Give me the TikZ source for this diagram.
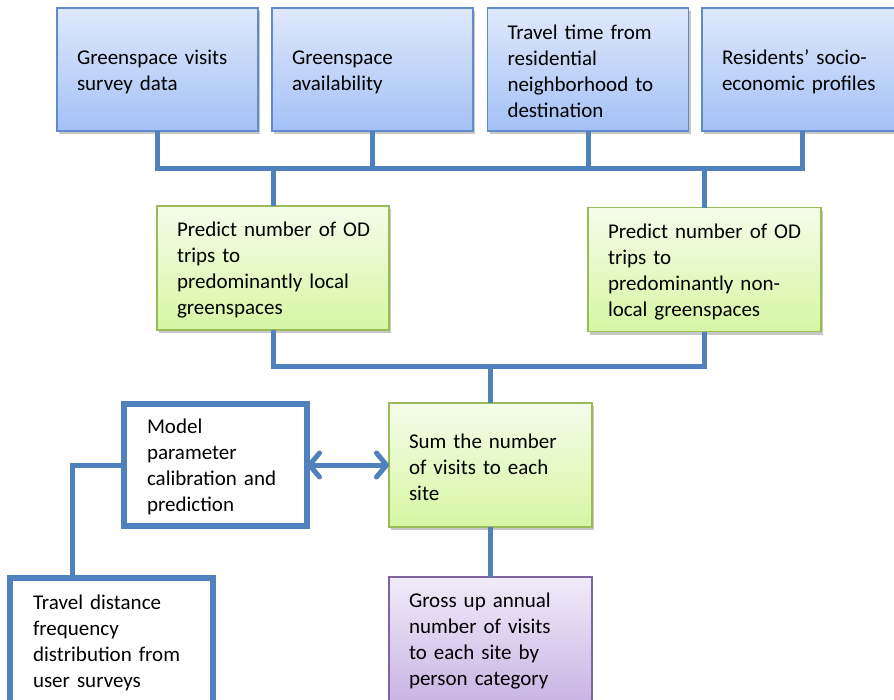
\documentclass[tikz,border=0pt]{standalone}
\usepackage{fontspec}
\setmainfont{Carlito}
\usepackage{tikz}
\usetikzlibrary{arrows.meta, shadows}

\definecolor{linkblue}{RGB}{79,129,189}
\definecolor{topedge}{RGB}{99,139,204}
\definecolor{toptop}{RGB}{223,233,252}
\definecolor{topbot}{RGB}{163,193,245}
\definecolor{greenedge}{RGB}{155,187,89}
\definecolor{greentop}{RGB}{245,252,234}
\definecolor{greenbot}{RGB}{214,246,162}
\definecolor{purpleedge}{RGB}{128,100,162}
\definecolor{purpletop}{RGB}{240,235,249}
\definecolor{purplebot}{RGB}{201,181,229}

\tikzset{
	box/.style={rectangle, align=left, inner xsep=20pt, inner ysep=0pt, outer sep=0pt,
		font=\fontsize{21}{26}\selectfont, execute at begin node={\rule{0pt}{19pt}}},
	softshadow/.style={drop shadow={shadow xshift=2pt, shadow yshift=-3pt, opacity=0.22, fill=black}},
	inputbox/.style={box, draw=topedge, line width=1.5pt, top color=toptop, bottom color=topbot,
		softshadow, minimum width=201pt, minimum height=123pt, text width=161pt},
	stepbox/.style={box, draw=greenedge, line width=1.5pt, top color=greentop, bottom color=greenbot,
		softshadow, minimum height=124pt},
	outbox/.style={box, draw=purpleedge, line width=1.5pt, top color=purpletop, bottom color=purplebot,
		minimum width=203pt, minimum height=124pt, text width=163pt},
	plainbox/.style={box, draw=linkblue, line width=6pt, fill=white, inner xsep=23pt},
	link/.style={draw=linkblue, line width=5pt},
	barb/.tip={Straight Barb[round, length=10pt, width=24pt]}
}

\begin{document}
\begin{tikzpicture}[x=1pt, y=-1pt]
		\useasboundingbox (0,0) rectangle (894,699);

		% Input data
		\node[inputbox] (greenvisits) at (157.5,69.5) {Greenspace visits\\survey data};
		\node[inputbox] (availability) at (372.5,69.5) {Greenspace\\availability};
		\node[inputbox] (traveltime) at (588,69.5) {Travel time from\\residential\\neighborhood to\\destination};
		\node[inputbox] (socio) at (802.5,69.5) {Residents’ socio-\\economic profiles};

		% Trip predictions
		\node[stepbox, minimum width=232pt, text width=192pt] (localtrips) at (273,268) {\mbox{Predict number of OD}\\trips to\\predominantly local\\greenspaces};
		\node[stepbox, minimum width=233pt, text width=193pt] (nonlocal) at (704.5,269.5) {\mbox{Predict number of OD}\\trips to\\predominantly non-\\local greenspaces};
		\node[stepbox, minimum width=203pt, text width=163pt] (sumvisits) at (490.5,465) {Sum the number\\of visits to each\\site};

		% Calibration
		\node[plainbox, minimum width=183pt, minimum height=122pt, text width=137pt] (model) at (215.5,465) {Model\\parameter\\calibration and\\prediction};
		\node[plainbox, minimum width=203pt, minimum height=126pt, text width=157pt] (travel) at (111.5,641) {Travel distance\\frequency\\distribution from\\user surveys};

		% Output
		\node[outbox] (gross) at (490.5,639) {Gross up annual\\number of visits\\to each site by\\person category};

		% Connectors
		\coordinate (topbus) at (273,168);
		\draw[link] (greenvisits.south) |- (socio.south |- topbus) -- (socio.south);
		\draw[link] (availability.south) -- (availability.south |- topbus);
		\draw[link] (traveltime.south) -- (traveltime.south |- topbus);
		\draw[link] (topbus) -- (localtrips.north);
		\draw[link] (nonlocal.north |- topbus) -- (nonlocal.north);

		\coordinate (midbus) at (490.5,366);
		\draw[link] (localtrips.south) |- (nonlocal.south |- midbus) -- (nonlocal.south);
		\draw[link] (midbus) -- (sumvisits.north);
		\draw[link] (sumvisits.south) -- (gross.north);

		\coordinate (elbow) at (72,465);
		\draw[link] (model.west) -- (elbow) -- (elbow |- travel.north);
		\draw[link, barb-barb] (model.east) -- (sumvisits.west);
	\end{tikzpicture}
\end{document}
